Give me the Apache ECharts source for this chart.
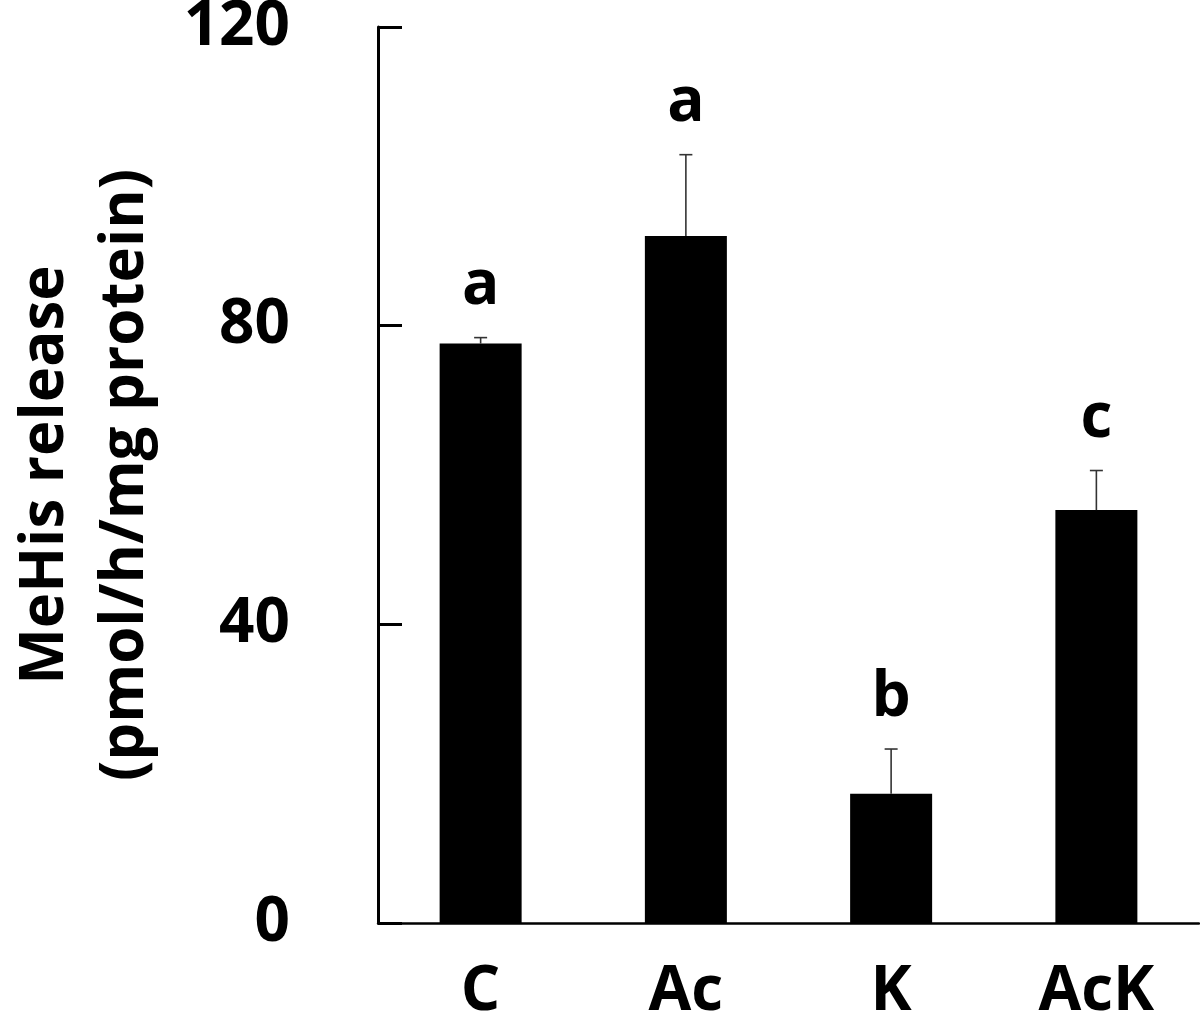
<!DOCTYPE html>
<html>
<head>
<meta charset="utf-8">
<script src="https://cdn.jsdelivr.net/npm/echarts@6/dist/echarts.min.js"></script>
<style>
  html, body { margin: 0; padding: 0; background: #fff; }
  #chart { width: 1200px; height: 1023px; }
</style>
</head>
<body>
<div id="chart"></div>
<script>
// ── Data ─────────────────────────────────────────────────────────────────────
const groups = ["C", "Ac", "K", "AcK"];
const meanRelease = [77.6, 92.0, 17.3, 55.3];
const errRelease = [0.8, 10.9, 6.0, 5.3];
const sigLetters = ["a", "a", "b", "c"];
const yTicks = [0, 40, 80, 120];

const FONT = "'Open Sans', 'Noto Sans', sans-serif";

const chart = echarts.init(document.getElementById("chart"));

// error bar + significance letter, one item per group
function renderErr(params, api) {
  const i = api.value(0);
  const mean = api.value(1);
  const err = api.value(2);
  const base = api.coord([i, mean]);
  const top = api.coord([i, mean + err]);
  const cap = 6.5;
  const lineStyle = { stroke: "#333", lineWidth: 1.6 };
  return {
    type: "group",
    children: [
      { type: "line", shape: { x1: base[0], y1: base[1], x2: top[0], y2: top[1] }, style: lineStyle },
      { type: "line", shape: { x1: top[0] - cap, y1: top[1], x2: top[0] + cap, y2: top[1] }, style: lineStyle },
      {
        type: "text",
        x: top[0],
        y: top[1] - 20,
        style: {
          text: sigLetters[i],
          font: "bold 62px " + FONT,
          fill: "#000",
          align: "center",
          verticalAlign: "bottom",
        },
      },
    ],
  };
}

chart.setOption({
  animation: false,
  grid: { left: 378, right: 1, top: 27, bottom: 100, outerBoundsMode: "none" },
  xAxis: {
    type: "category",
    data: groups,
    axisLine: { lineStyle: { color: "#000", width: 2.5 } },
    axisTick: { show: false },
    axisLabel: {
      margin: 38,
      color: "#000",
      fontFamily: FONT,
      fontWeight: "bold",
      fontSize: 62,
    },
  },
  yAxis: {
    type: "value",
    min: 0,
    max: 120,
    interval: 40,
    name: "MeHis release\n(pmol/h/mg protein)",
    nameLocation: "middle",
    nameGap: 212,
    nameTextStyle: {
      color: "#000",
      fontFamily: FONT,
      fontWeight: "bold",
      fontSize: 60,
      lineHeight: 80,
    },
    axisLine: { show: true, lineStyle: { color: "#000", width: 3 } },
    axisTick: { show: true, inside: true, length: 24, lineStyle: { color: "#000", width: 3 } },
    splitLine: { show: false },
    axisLabel: {
      margin: 88,
      color: "#000",
      fontFamily: FONT,
      fontWeight: "bold",
      fontSize: 62,
      formatter: (v) => (yTicks.includes(v) ? String(v) : ""),
    },
  },
  series: [
    {
      type: "bar",
      data: meanRelease,
      barWidth: 82,
      itemStyle: { color: "#000" },
      z: 2,
    },
    {
      type: "custom",
      renderItem: renderErr,
      data: groups.map((g, i) => [i, meanRelease[i], errRelease[i]]),
      encode: { x: 0, y: 1 },
      z: 3,
    },
  ],
});
</script>
</body>
</html>
